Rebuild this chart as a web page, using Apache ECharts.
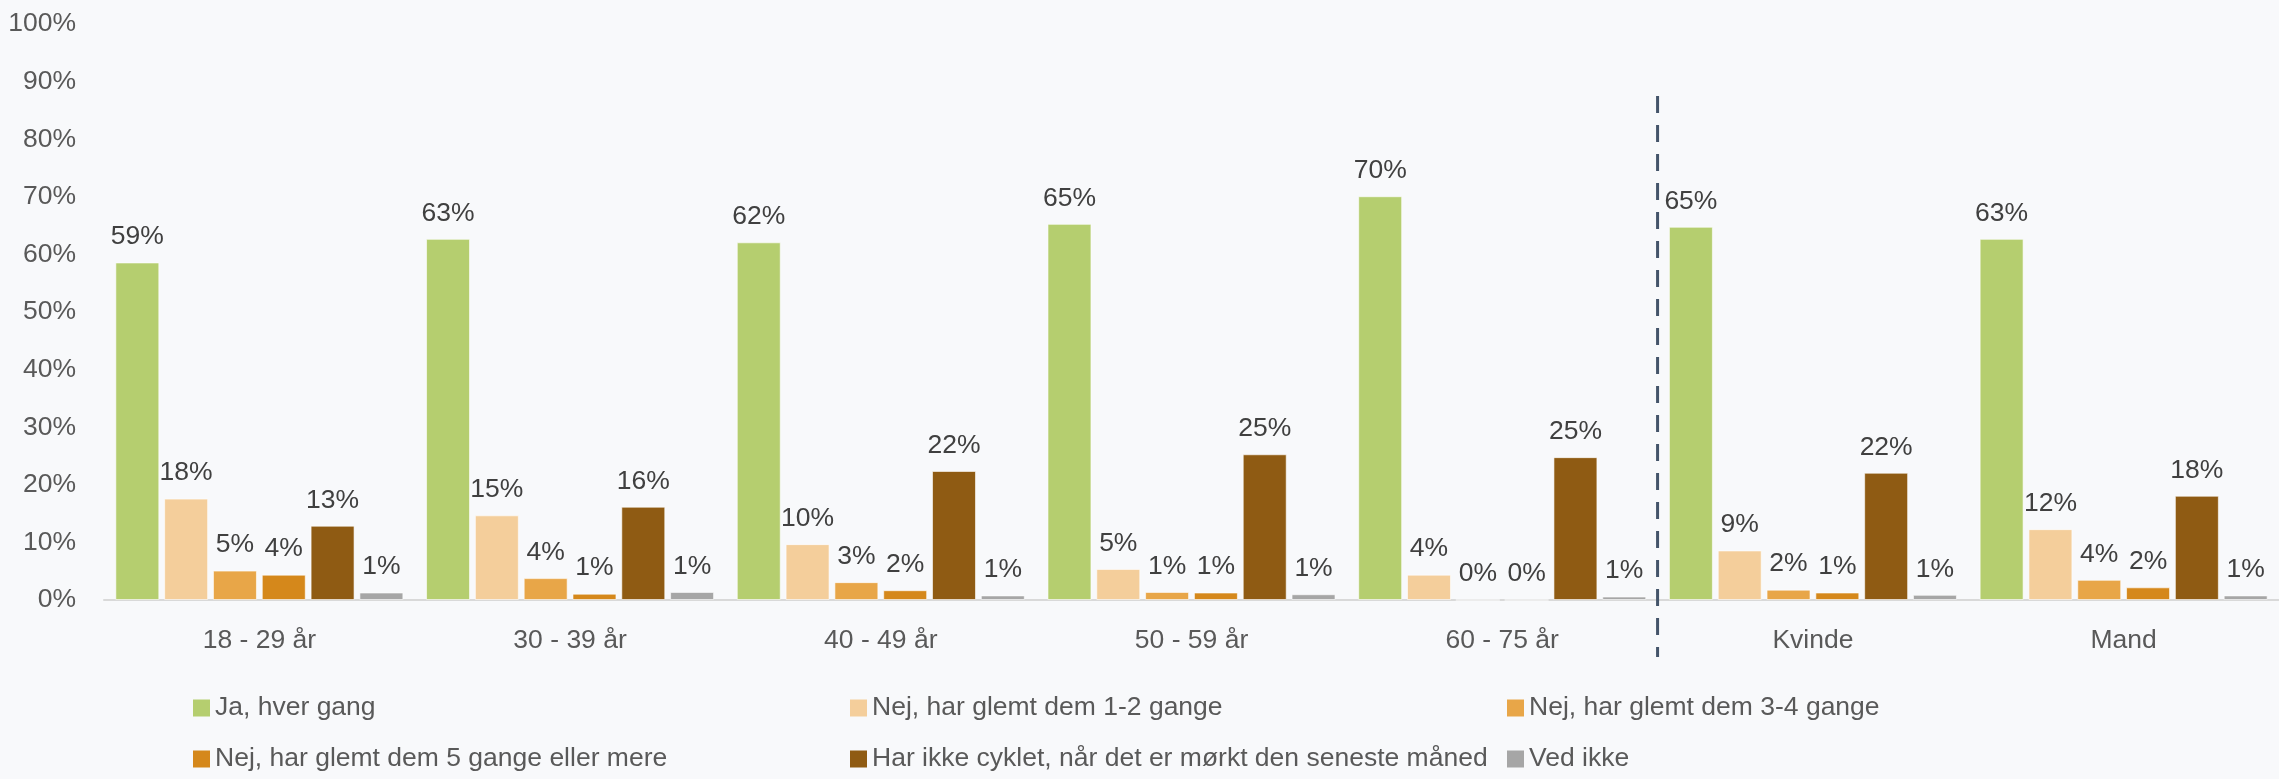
<!DOCTYPE html>
<html>
<head>
<meta charset="utf-8">
<script src="https://cdn.jsdelivr.net/npm/echarts/dist/echarts.min.js"></script>
<style>
    html, body { margin: 0; padding: 0; background: #f8f9fb; }
    #main { width: 2279px; height: 779px; }
</style>
</head>
<body>
<div id="main"></div>
<script>
var categories = ['18 - 29 år', '30 - 39 år', '40 - 49 år', '50 - 59 år', '60 - 75 år', 'Kvinde', 'Mand'];
var seriesNames = [
    'Ja, hver gang',
    'Nej, har glemt dem 1-2 gange',
    'Nej, har glemt dem 3-4 gange',
    'Nej, har glemt dem 5 gange eller mere',
    'Har ikke cyklet, når det er mørkt den seneste måned',
    'Ved ikke'
];
var jaHverGang = [58.6, 62.7, 62.1, 65.3, 70.1, 64.8, 62.7];
var glemt12 = [17.6, 14.7, 9.7, 5.4, 4.4, 8.6, 12.3];
var glemt34 = [5.1, 3.8, 3.1, 1.4, 0, 1.8, 3.5];
var glemt5 = [4.4, 1.1, 1.7, 1.3, 0, 1.3, 2.2];
var ikkeCyklet = [12.9, 16.2, 22.4, 25.3, 24.8, 22.1, 18.1];
var vedIkke = [1.3, 1.4, 0.8, 1.0, 0.6, 0.9, 0.8];
var yTicks = [0, 10, 20, 30, 40, 50, 60, 70, 80, 90, 100];

// skillelinje mellem alder og køn (i kategori-enheder / procent)
var dividerX = [5, 5];
var dividerY = [87.5, -9.9];

var colors = ['#b5ce6f', '#f4ce9b', '#e8a648', '#d5881b', '#8f5b13', '#a6a6a6'];
var values = [jaHverGang, glemt12, glemt34, glemt5, ikkeCyklet, vedIkke];
var font = 'Liberation Sans';
var fontSize = 26.5;

var app = echarts.init(document.getElementById('main'));

var series = [];
for (var i = 0; i < seriesNames.length; i++) {
    series.push({
        name: seriesNames[i],
        type: 'bar',
        barGap: '11%',
        barCategoryGap: '7.3%',
        itemStyle: {
            color: colors[i],
            borderColor: 'rgba(255,255,255,0.6)',
            borderWidth: 1
        },
        label: {
            show: true,
            position: 'top',
            distance: 12,
            color: '#404040',
            fontSize: fontSize,
            fontFamily: font,
            formatter: function (p) {
                return Math.round(p.value) + '%';
            }
        },
        data: values[i]
    });
}
series.push({
    type: 'line',
    xAxisIndex: 1,
    yAxisIndex: 0,
    clip: false,
    symbol: 'none',
    silent: true,
    lineStyle: { color: '#44546a', width: 3, type: [17, 12] },
    data: [[dividerX[0], dividerY[0]], [dividerX[1], dividerY[1]]]
});

option = {
    backgroundColor: '#f8f9fb',
    animation: false,
    grid: {
        left: 104,
        right: 0,
        top: 24,
        bottom: 179,
        containLabel: false,
        outerBoundsMode: 'none'
    },
    legend: {
        data: seriesNames,
        left: 193,
        top: 688,
        width: 1960,
        padding: 0,
        itemWidth: 17,
        itemHeight: 17,
        itemGap: 11,
        icon: 'rect',
        itemStyle: { borderWidth: 0 },
        textStyle: {
            color: '#595959',
            fontSize: fontSize,
            fontFamily: font,
            width: 624,
            lineHeight: 40
        }
    },
    xAxis: [
        {
            type: 'category',
            data: categories,
            axisTick: { show: false },
            axisLine: { lineStyle: { color: '#d9d9d9', width: 2 } },
            axisLabel: {
                color: '#595959',
                fontSize: fontSize,
                fontFamily: font,
                lineHeight: 30,
                margin: 26
            }
        },
        {
            type: 'value',
            min: 0,
            max: categories.length,
            show: false
        }
    ],
    yAxis: {
        type: 'value',
        min: yTicks[0],
        max: yTicks[yTicks.length - 1],
        interval: yTicks[1] - yTicks[0],
        splitLine: { show: false },
        axisLine: { show: false },
        axisTick: { show: false },
        axisLabel: {
            color: '#595959',
            fontSize: fontSize,
            fontFamily: font,
            margin: 28,
            formatter: '{value}%'
        }
    },
    series: series
};

app.setOption(option);
</script>
</body>
</html>
